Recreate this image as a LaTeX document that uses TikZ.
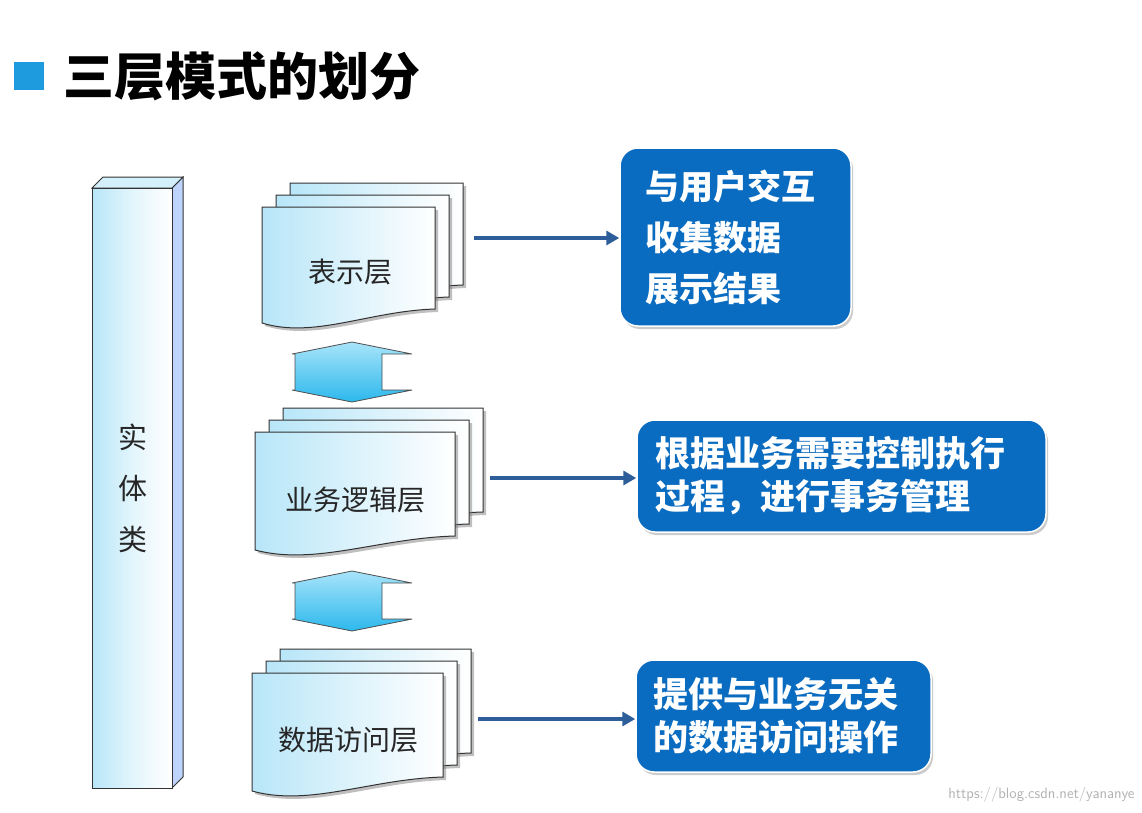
\documentclass[tikz,border=0pt]{standalone}
\usepackage{fontspec}
\setmainfont{Noto Sans CJK SC}
\usetikzlibrary{shadows,arrows.meta}
\definecolor{boxblue}{HTML}{0A6CC0}
\definecolor{arrblue}{HTML}{2E5E9A}
\definecolor{lite}{HTML}{B8E6F8}
\definecolor{sqblue}{HTML}{1E9BDF}
\definecolor{dtop}{HTML}{A8E4FA}
\definecolor{dbot}{HTML}{2CB8EC}
\tikzset{
  docfill/.style={draw=black!80, line width=1pt, left color=lite, right color=white},
  box/.style={rectangle, rounded corners=18pt, fill=boxblue, draw=white, line width=1.5pt,
    text=white, font=\fontsize{34}{51}\selectfont\bfseries, align=left, inner sep=0pt,
    drop shadow={shadow xshift=2pt, shadow yshift=-3pt, opacity=.4}},
  link/.style={arrblue, line width=4pt, -{Triangle[length=13pt,width=14pt]}},
  layertxt/.style={font=\fontsize{28}{32}\selectfont, text=black!85},
  dbl/.style={draw=black!70, line width=.8pt, top color=dtop, bottom color=dbot},
}
\newcommand{\docshape}[2]{%
  \path[docfill, drop shadow={shadow xshift=3pt, shadow yshift=-3pt, opacity=.5}]
   (0,0) -- (#1,0) -- (#1,#2-16) .. controls (0.62*#1,#2-14) and (0.3*#1,#2+14) .. (0,#2-2) -- cycle;}
\newcommand{\docstack}[4]{% x0 y0 w h
  \begin{scope}[shift={(#1+28,#2-24)}]\docshape{#3}{#4}\end{scope}
  \begin{scope}[shift={(#1+14,#2-12)}]\docshape{#3}{#4}\end{scope}
  \begin{scope}[shift={(#1,#2)}]\docshape{#3}{#4}\end{scope}}
\newcommand{\dblarrow}[2]{% x0 ytop
  \begin{scope}[shift={(#1,#2)}]
  \path[dbl] (0,12) -- (60,0) -- (120,12) -- (90,12) -- (90,48) -- (120,48) -- (60,60) -- (0,48) -- (3,48) -- (3,12) -- cycle;
  \end{scope}}
\begin{document}
\begin{tikzpicture}[x=1pt,y=-1pt]
\useasboundingbox[fill=white] (0,0) rectangle (1142,812);
% title
\fill[sqblue] (14,62) rectangle (44,90);
\node[anchor=west, font=\fontsize{51}{56}\selectfont\bfseries] (title) at (60,76) {三层模式的划分};
% entity bar
\path[draw=black!80, line width=1pt, fill=lite!80!blue!60] (172,188) -- (183,177) -- (183,777) -- (172,788) -- cycle;
\path[draw=black!80, line width=1pt, fill=lite!60] (92,188) -- (103,177) -- (183,177) -- (172,188) -- cycle;
\path[draw=black!80, line width=1pt, left color=lite, right color=white, middle color=lite!40] (92,188) rectangle (172,788);
\node[align=center, font=\fontsize{29}{51}\selectfont, text=black!85] (entity) at (133,488) {实\\体\\类};
% stacks
\docstack{262}{207}{173}{118}
\node[layertxt] (pres) at (350,272) {表示层};
\coordinate (presR) at (474,238);
\docstack{255}{432}{200}{120}
\node[layertxt] (biz) at (355,500) {业务逻辑层};
\coordinate (bizR) at (490,478);
\docstack{252}{673}{191}{120}
\node[layertxt] (dat) at (348,740) {数据访问层};
\coordinate (datR) at (478,719);
% double arrows
\dblarrow{292}{342}
\dblarrow{292}{571}
% boxes
\node[box, minimum width=231pt, minimum height=178pt, text width=181pt] (b1) at (735.5,237)
  {与用户交互\\收集数据\\展示结果};
\node[box, minimum width=409pt, minimum height=112pt, text width=372pt,
  font=\fontsize{35}{43}\selectfont\bfseries] (b2) at (841.5,476)
  {根据业务需要控制执行\\过程，进行事务管理};
\node[box, minimum width=295pt, minimum height=112pt, text width=260pt,
  font=\fontsize{35}{43}\selectfont\bfseries] (b3) at (783.5,716)
  {提供与业务无关\\的数据访问操作};
\draw[link] (presR) -- (b1.west |- presR);
\draw[link] (bizR) -- (b2.west |- bizR);
\draw[link] (datR) -- (b3.west |- datR);
\node[anchor=east, text=black!30, font=\fontsize{15}{18}\selectfont\sffamily] (wm) at (1138,795) {https://blog.csdn.net/yananye};
\end{tikzpicture}
\end{document}
